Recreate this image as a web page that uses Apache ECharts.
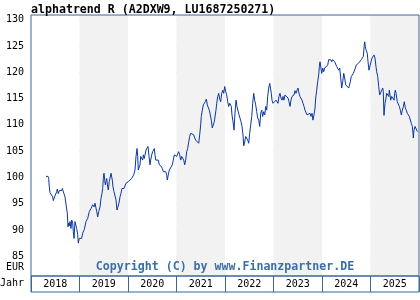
<!DOCTYPE html>
<html><head><meta charset="utf-8">
<script src="https://cdn.jsdelivr.net/npm/echarts@6/dist/echarts.min.js"></script>
<style>html,body{margin:0;padding:0;background:#fff}#c{width:420px;height:300px}</style>
</head><body><div id="c"></div>
<script>
const titleText = 'alphatrend R (A2DXW9, LU1687250271)';
const copyrightText = 'Copyright (C) by www.Finanzpartner.DE';
const unitLabel = 'EUR';
const axisName = 'Jahr';
const yearLabels = ['2018', '2019', '2020', '2021', '2022', '2023', '2024', '2025'];
const yMin = 81.25, yMax = 130.9;

// decimal years
const dates = [
2018.309,2018.351,2018.365,2018.377,2018.392,2018.412,2018.427,2018.447,2018.460,2018.480,
2018.495,2018.515,2018.530,2018.542,2018.563,2018.584,2018.612,2018.633,2018.645,2018.666,
2018.680,2018.701,2018.736,2018.748,2018.763,2018.777,2018.790,2018.804,2018.825,2018.839,
2018.860,2018.872,2018.887,2018.907,2018.928,2018.942,2018.963,2018.975,2018.996,2019.010,
2019.031,2019.045,2019.066,2019.099,2019.134,2019.169,2019.202,2019.237,2019.272,2019.299,
2019.320,2019.355,2019.375,2019.396,2019.423,2019.443,2019.464,2019.478,2019.491,2019.505,
2019.520,2019.532,2019.546,2019.561,2019.581,2019.594,2019.614,2019.629,2019.650,2019.664,
2019.676,2019.691,2019.711,2019.732,2019.753,2019.773,2019.794,2019.814,2019.835,2019.856,
2019.876,2019.897,2019.918,2019.938,2019.959,2019.986,2020.006,2020.027,2020.047,2020.076,
2020.097,2020.118,2020.144,2020.165,2020.186,2020.200,2020.212,2020.233,2020.247,2020.262,
2020.283,2020.303,2020.316,2020.336,2020.357,2020.371,2020.392,2020.412,2020.433,2020.454,
2020.468,2020.489,2020.509,2020.530,2020.542,2020.557,2020.571,2020.592,2020.612,2020.625,
2020.645,2020.666,2020.687,2020.707,2020.728,2020.748,2020.777,2020.798,2020.810,2020.831,
2020.852,2020.872,2020.893,2020.913,2020.934,2020.955,2020.975,2021.004,2021.025,2021.045,
2021.066,2021.087,2021.107,2021.128,2021.149,2021.169,2021.190,2021.210,2021.231,2021.252,
2021.272,2021.293,2021.314,2021.334,2021.355,2021.375,2021.396,2021.417,2021.437,2021.458,
2021.478,2021.499,2021.511,2021.532,2021.553,2021.573,2021.594,2021.615,2021.635,2021.656,
2021.676,2021.697,2021.718,2021.738,2021.759,2021.779,2021.794,2021.814,2021.829,2021.850,
2021.870,2021.891,2021.911,2021.932,2021.953,2021.973,2021.994,2022.015,2022.035,2022.056,
2022.076,2022.097,2022.118,2022.130,2022.144,2022.165,2022.186,2022.206,2022.227,2022.247,
2022.268,2022.289,2022.309,2022.330,2022.351,2022.371,2022.386,2022.406,2022.427,2022.448,
2022.468,2022.489,2022.509,2022.530,2022.551,2022.571,2022.592,2022.612,2022.633,2022.654,
2022.674,2022.695,2022.716,2022.736,2022.757,2022.777,2022.798,2022.819,2022.839,2022.860,
2022.880,2022.901,2022.922,2022.942,2022.955,2022.969,2022.990,2023.010,2023.031,2023.052,
2023.072,2023.093,2023.113,2023.134,2023.155,2023.175,2023.196,2023.216,2023.237,2023.258,
2023.278,2023.299,2023.320,2023.340,2023.361,2023.381,2023.402,2023.423,2023.443,2023.464,
2023.485,2023.505,2023.526,2023.546,2023.567,2023.588,2023.608,2023.629,2023.649,2023.670,
2023.691,2023.711,2023.732,2023.753,2023.773,2023.794,2023.814,2023.835,2023.856,2023.870,
2023.891,2023.911,2023.932,2023.945,2023.959,2023.973,2023.994,2024.015,2024.035,2024.056,
2024.076,2024.097,2024.118,2024.138,2024.159,2024.180,2024.200,2024.221,2024.241,2024.262,
2024.283,2024.303,2024.324,2024.344,2024.365,2024.386,2024.406,2024.427,2024.448,2024.468,
2024.489,2024.509,2024.530,2024.551,2024.571,2024.584,2024.604,2024.625,2024.646,2024.666,
2024.687,2024.707,2024.728,2024.749,2024.769,2024.790,2024.810,2024.831,2024.852,2024.872,
2024.881,2024.893,2024.907,2024.922,2024.934,2024.949,2024.969,2024.990,2025.010,2025.031,
2025.052,2025.072,2025.093,2025.113,2025.128,2025.149,2025.169,2025.190,2025.210,2025.231,
2025.252,2025.264,2025.278,2025.299,2025.320,2025.334,2025.355,2025.375,2025.388,2025.402,
2025.416,2025.437,2025.458,2025.470,2025.485,2025.499,2025.512,2025.526,2025.540,2025.553,
2025.573,2025.594,2025.615,2025.635,2025.656,2025.677,2025.697,2025.718,2025.738,2025.759,
2025.780,2025.800,2025.821,2025.841,2025.862,2025.876,2025.883,2025.897,2025.918,2025.938,
2025.953,2025.965
];

const values = [
100.2,100.2,99.8,98.2,97.1,97.3,97.1,96.3,95.6,95.3,
96.5,96.7,97.3,97.8,96.9,97.5,97.3,97.5,97.9,98.2,
96.9,96.3,96.2,93.2,90.6,91.3,90.8,91.6,90.3,91.9,
91.3,89.7,88.4,91.6,91.3,90.3,89.1,87.5,88.4,88.1,
88.7,88.4,89.4,90.1,91.6,92.2,93.5,94.1,94.8,94.4,
95.1,93.5,92.5,93.5,94.4,96.0,97.0,97.9,99.8,100.8,
99.5,98.6,99.2,99.8,98.2,97.6,99.2,99.5,100.8,101.1,
99.5,98.2,97.3,97.0,95.7,93.8,94.1,95.1,96.3,97.0,
97.9,98.2,97.9,98.4,98.9,98.9,99.2,99.2,99.5,99.8,
100.0,100.5,101.4,104.0,105.5,104.0,101.4,101.7,102.4,104.0,
104.3,103.3,104.3,103.6,103.3,105.2,105.5,105.9,104.0,102.4,
103.3,104.3,104.9,104.6,105.5,104.3,103.3,103.0,103.6,103.3,
102.4,102.7,102.1,101.7,101.1,101.4,101.1,100.5,99.5,100.5,
101.4,101.1,101.7,102.4,103.3,104.3,104.3,104.0,104.5,104.9,
104.3,103.3,104.0,104.1,103.3,102.4,103.3,104.9,105.5,106.8,
107.8,108.4,108.5,108.4,108.1,107.5,107.1,106.8,107.1,106.5,
108.1,110.0,111.6,112.8,113.8,114.1,114.4,114.9,113.8,113.5,
112.8,111.9,110.9,109.4,109.7,110.6,110.6,112.8,114.1,115.4,
116.0,114.9,114.4,116.0,116.6,116.0,117.3,116.3,115.7,114.4,
113.5,114.1,114.4,113.5,111.9,110.6,109.0,112.2,114.7,113.5,
113.2,111.9,111.3,110.6,109.7,108.1,106.0,106.8,107.8,108.1,
107.1,106.5,108.4,110.0,111.6,114.1,116.0,114.7,113.8,112.5,
111.3,110.9,109.7,112.2,112.8,111.6,112.5,111.9,113.5,112.8,
115.4,117.0,117.9,117.6,116.0,114.7,114.1,113.8,114.4,114.7,
114.7,114.1,115.4,116.0,115.1,114.7,115.4,114.7,115.7,115.7,
116.0,115.1,114.4,113.5,114.7,115.4,115.1,115.7,116.5,116.0,
116.6,117.0,116.0,115.4,115.4,114.7,114.1,113.5,112.8,112.5,
111.9,112.2,111.6,112.2,111.6,112.2,110.9,111.9,113.2,115.1,
116.6,118.2,119.5,121.1,122.0,121.7,119.8,120.8,120.1,120.8,
121.1,120.8,121.4,122.4,122.7,122.4,122.0,122.4,122.7,122.0,
121.7,121.1,120.8,120.4,120.8,118.9,117.0,118.2,119.8,118.9,
117.6,117.9,117.6,117.0,117.3,118.2,119.2,119.5,119.8,120.1,
120.8,121.4,121.1,121.7,121.7,122.0,122.4,122.4,123.0,125.2,
125.8,124.9,124.3,124.6,123.6,122.0,120.4,120.1,122.0,122.7,
123.0,123.3,122.7,121.1,120.1,119.2,117.3,115.7,115.5,115.4,
117.0,116.3,111.8,114.1,115.1,116.0,116.3,115.4,116.6,115.7,
114.7,115.4,115.1,115.7,114.7,116.0,116.6,116.0,115.7,114.4,
114.7,113.5,112.8,111.9,112.8,113.5,114.4,113.2,112.8,112.2,
111.9,111.6,111.3,110.3,109.7,108.4,107.5,109.0,109.7,109.4,
109.0,108.7
];

const frameColor = '#3a6698';
const mono = "'DejaVu Sans Mono', monospace";

const chart = echarts.init(document.getElementById('c'), null, {renderer: 'canvas'});
chart.setOption({
  animation: false,
  backgroundColor: '#ffffff',
  title: [
    {text: titleText, left: 31, top: 4, padding: 0,
     textStyle: {fontFamily: mono, fontWeight: 'bold', fontSize: 11.6, color: '#000'}},
    {text: unitLabel, left: 24, top: 262, padding: 0, textAlign: 'right',
     textStyle: {fontFamily: mono, fontWeight: 'normal', fontSize: 10, color: '#000'}},
    {text: axisName, left: 24, top: 278, padding: 0, textAlign: 'right',
     textStyle: {fontFamily: mono, fontWeight: 'normal', fontSize: 10, color: '#000'}},
    {text: copyrightText, left: 225, top: 261, padding: 0, textAlign: 'center',
     textStyle: {fontFamily: mono, fontWeight: 'bold', fontSize: 11.6, color: '#3a6ea5'}}
  ],
  grid: [
    {left: 31, right: 1, top: 15, bottom: 24, show: true, z: 3,
     borderColor: frameColor, borderWidth: 1, backgroundColor: 'transparent'},
    {left: 31, right: 1, top: 276, height: 16, show: true, z: 3,
     borderColor: frameColor, borderWidth: 1, backgroundColor: 'transparent'}
  ],
  xAxis: [
    {type: 'value', gridIndex: 0, min: 2018, max: 2026, show: false},
    {type: 'category', gridIndex: 0, data: yearLabels, boundaryGap: true,
     axisLine: {show: false}, axisTick: {show: false}, axisLabel: {show: false},
     splitLine: {show: false},
     splitArea: {show: true, interval: 0, areaStyle: {color: ['#ffffff', '#f2f2f2']}}},
    {type: 'category', gridIndex: 1, data: yearLabels, boundaryGap: true, position: 'bottom',
     axisLine: {show: false}, axisTick: {show: false},
     axisLabel: {inside: true, margin: 3, interval: 0, fontFamily: mono, fontSize: 10, color: '#000'},
     splitLine: {show: true, interval: 0, lineStyle: {color: frameColor, width: 1}}}
  ],
  yAxis: [
    {type: 'value', gridIndex: 0, min: yMin, max: yMax, splitNumber: 10,
     axisLine: {show: false}, axisTick: {show: false},
     axisLabel: {margin: 7, fontFamily: mono, fontSize: 10, color: '#000',
                 showMinLabel: false, showMaxLabel: false},
     splitLine: {show: true, showMinLine: false, showMaxLine: false,
                 lineStyle: {color: '#c8c8c8', width: 1, type: [5, 3]}}},
    {type: 'value', gridIndex: 1, show: false}
  ],
  series: [{
    type: 'line', xAxisIndex: 0, yAxisIndex: 0,
    data: dates.map((d, i) => [d, values[i]]),
    showSymbol: false, symbol: 'none',
    lineStyle: {color: '#0a37a0', width: 1}
  }]
});
</script></body></html>
